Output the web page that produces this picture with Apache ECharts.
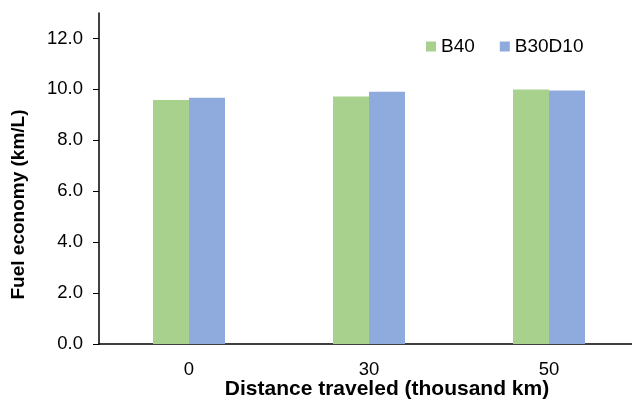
<!DOCTYPE html>
<html><head><meta charset="utf-8">
<script src="https://cdn.jsdelivr.net/npm/echarts@6/dist/echarts.min.js"></script>
<style>html,body{margin:0;padding:0;background:#fff}#c{width:632px;height:399px}</style>
</head><body><div id="c"></div>
<script>
var categories = ['0', '30', '50'];
var b40 = [9.58, 9.72, 10.0];
var b30d10 = [9.67, 9.91, 9.96];
var yTicks = [0, 2, 4, 6, 8, 10, 12];

var font = 'Liberation Sans, Arial, sans-serif';
var chart = echarts.init(document.getElementById('c'));
chart.setOption({
  animation: false,
  backgroundColor: '#fff',
  textStyle: {fontFamily: font},
  grid: {left: 99, right: -7, top: 13, bottom: 55, containLabel: false, outerBoundsMode: 'none'},
  legend: {
    data: ['B40', 'B30D10'],
    top: 32, left: 421,
    itemWidth: 10, itemHeight: 10, itemGap: 25,
    icon: 'rect',
    textStyle: {fontFamily: font, fontSize: 19, color: '#000'}
  },
  xAxis: {
    type: 'category',
    data: categories,
    boundaryGap: true,
    axisLine: {lineStyle: {color: '#000', width: 1.5}},
    axisTick: {alignWithLabel: true, length: 5, lineStyle: {color: '#000'}},
    axisLabel: {fontFamily: font, fontSize: 18.5, color: '#000', margin: 16},
    name: 'Distance traveled (thousand km)',
    nameLocation: 'middle',
    nameMoveOverlap: false,
    nameGap: 35,
    nameTextStyle: {fontFamily: font, fontSize: 21, fontWeight: 'bold', color: '#000', padding: [0, 0, 0, 36]}
  },
  yAxis: {
    type: 'value',
    min: 0, max: 13,
    axisLine: {show: true, lineStyle: {color: '#000', width: 1.5}},
    axisTick: {show: true, length: 6, lineStyle: {color: '#000'}, customValues: yTicks},
    axisLabel: {fontFamily: font, fontSize: 18.5, color: '#000', margin: 16, customValues: yTicks,
      formatter: function (v) { return v.toFixed(1); }},
    splitLine: {show: false},
    name: 'Fuel economy (km/L)',
    nameLocation: 'middle',
    nameGap: 71,
    nameTextStyle: {fontFamily: font, fontSize: 19, fontWeight: 'bold', color: '#000', padding: [0, 52, 0, 0]}
  },
  series: [
    {name: 'B40', type: 'bar', data: b40, barGap: '0%', barCategoryGap: '60%',
      itemStyle: {color: '#A9D18E'}},
    {name: 'B30D10', type: 'bar', data: b30d10, barGap: '0%', barCategoryGap: '60%',
      itemStyle: {color: '#8FAADC'}}
  ]
});
</script></body></html>
